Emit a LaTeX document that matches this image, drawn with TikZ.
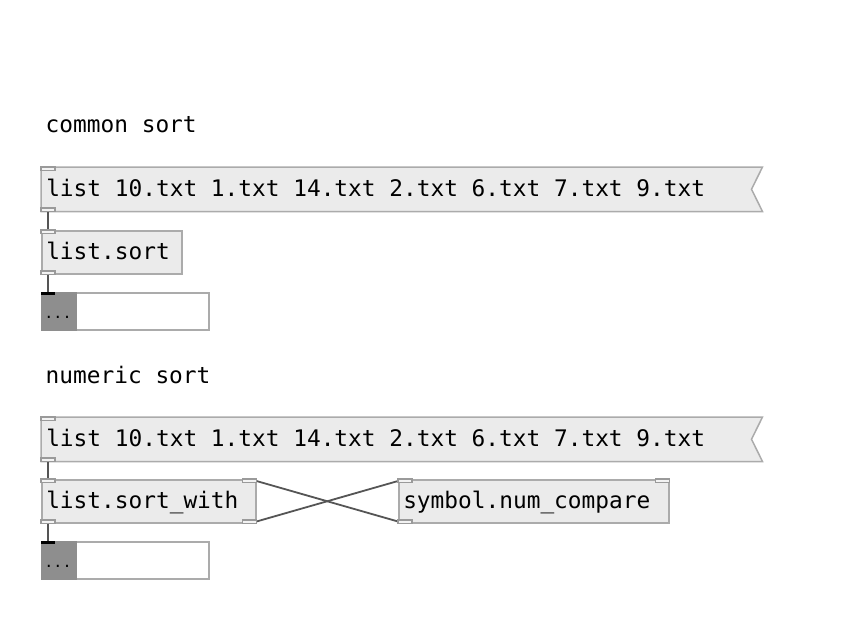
\documentclass[tikz,border=0pt]{standalone}
\usepackage{fontspec}
\setmonofont{DejaVu Sans Mono}
\usetikzlibrary{backgrounds}

\definecolor{boxfill}{HTML}{EBEBEB}
\definecolor{boxline}{HTML}{ABABAB}
\definecolor{wirecol}{HTML}{555555}
\definecolor{atomgray}{HTML}{8E8E8E}

\newcommand{\pdtxt}[2]{\makebox[#1][l]{#2}}

\tikzset{
  pdtext/.style={font=\ttfamily\fontsize{22.8}{26}\selectfont, text=black},
  objbox/.style={pdtext, draw=boxline, fill=boxfill, line width=1.5pt, anchor=north west,
    inner xsep=4.5pt, inner ysep=0pt, minimum height=43pt, text height=19pt, text depth=4pt},
  msgbox/.style={objbox, draw=none, fill=none},
  msgshape/.style={draw=boxline, fill=boxfill, line width=1.5pt},
  atombox/.style={draw=boxline, fill=white, line width=1.5pt, anchor=north west,
    minimum width=167pt, minimum height=37pt, inner sep=0pt},
  dots/.style={font=\ttfamily\fontsize{15}{17}\selectfont, text=black},
  port/.style={draw=boxline!90!black, fill=boxfill!60!white, line width=1.1pt},
  wire/.style={draw=wirecol, line width=1.8pt},
  comment/.style={pdtext, anchor=west, inner xsep=4.5pt}
}

\begin{document}
\begin{tikzpicture}[x=1pt,y=-1pt]
\useasboundingbox (0,0) rectangle (865,619);

% common sort
\node[comment] (lblA) at (41,125) {common sort};
\node[msgbox] (msgA) at (41,167) {\pdtxt{711pt}{list 10.txt 1.txt 14.txt 2.txt 6.txt 7.txt 9.txt}};
\begin{pgfonlayer}{background}
\filldraw[msgshape] (msgA.north west) -- (msgA.north east) -- ([xshift=-11pt]msgA.east) -- (msgA.south east) -- (msgA.south west) -- cycle;
\end{pgfonlayer}
\node[objbox] (sortA) at (41,230) {\pdtxt{131pt}{list.sort}};
\node[atombox] (resA) at (41,292) {};
\fill[atomgray] (resA.north west) rectangle ([xshift=36pt]resA.south west);
\node[dots] (dotsA) at ([xshift=17pt,yshift=-6pt]resA.west) {...};
\fill[black] (resA.north west) rectangle ([xshift=14pt,yshift=-3pt]resA.north west);

\draw[wire] ([xshift=7pt]msgA.south west) -- ([xshift=7pt]sortA.north west);
\draw[wire] ([xshift=7pt]sortA.south west) -- ([xshift=7pt]resA.north west);

% numeric sort
\node[comment] (lblB) at (41,375) {numeric sort};
\node[msgbox] (msgB) at (41,417) {\pdtxt{711pt}{list 10.txt 1.txt 14.txt 2.txt 6.txt 7.txt 9.txt}};
\begin{pgfonlayer}{background}
\filldraw[msgshape] (msgB.north west) -- (msgB.north east) -- ([xshift=-11pt]msgB.east) -- (msgB.south east) -- (msgB.south west) -- cycle;
\end{pgfonlayer}
\node[objbox] (sortB) at (41,479) {\pdtxt{205pt}{list.sort\_with}};
\node[objbox] (cmpB) at (398,479) {\pdtxt{261pt}{symbol.num\_compare}};
\node[atombox] (resB) at (41,541) {};
\fill[atomgray] (resB.north west) rectangle ([xshift=36pt]resB.south west);
\node[dots] (dotsB) at ([xshift=17pt,yshift=-6pt]resB.west) {...};
\fill[black] (resB.north west) rectangle ([xshift=14pt,yshift=-3pt]resB.north west);

\draw[wire] ([xshift=7pt]msgB.south west) -- ([xshift=7pt]sortB.north west);
\draw[wire] ([xshift=7pt]sortB.south west) -- ([xshift=7pt]resB.north west);
\draw[wire] ([yshift=2pt]sortB.south east) -- ([yshift=-2pt]cmpB.north west);
\draw[wire] ([yshift=2pt]cmpB.south west) -- ([yshift=-2pt]sortB.north east);

% inlets and outlets
\foreach \n in {msgA,sortA,msgB,sortB,cmpB} {
  \filldraw[port] (\n.north west) rectangle ([xshift=14pt,yshift=-3.5pt]\n.north west);
  \filldraw[port] (\n.south west) rectangle ([xshift=14pt,yshift=3.5pt]\n.south west);
}
\foreach \n in {sortB,cmpB}
  \filldraw[port] (\n.north east) rectangle ([xshift=-14pt,yshift=-3.5pt]\n.north east);
\filldraw[port] (sortB.south east) rectangle ([xshift=-14pt,yshift=3.5pt]sortB.south east);
\end{tikzpicture}
\end{document}
